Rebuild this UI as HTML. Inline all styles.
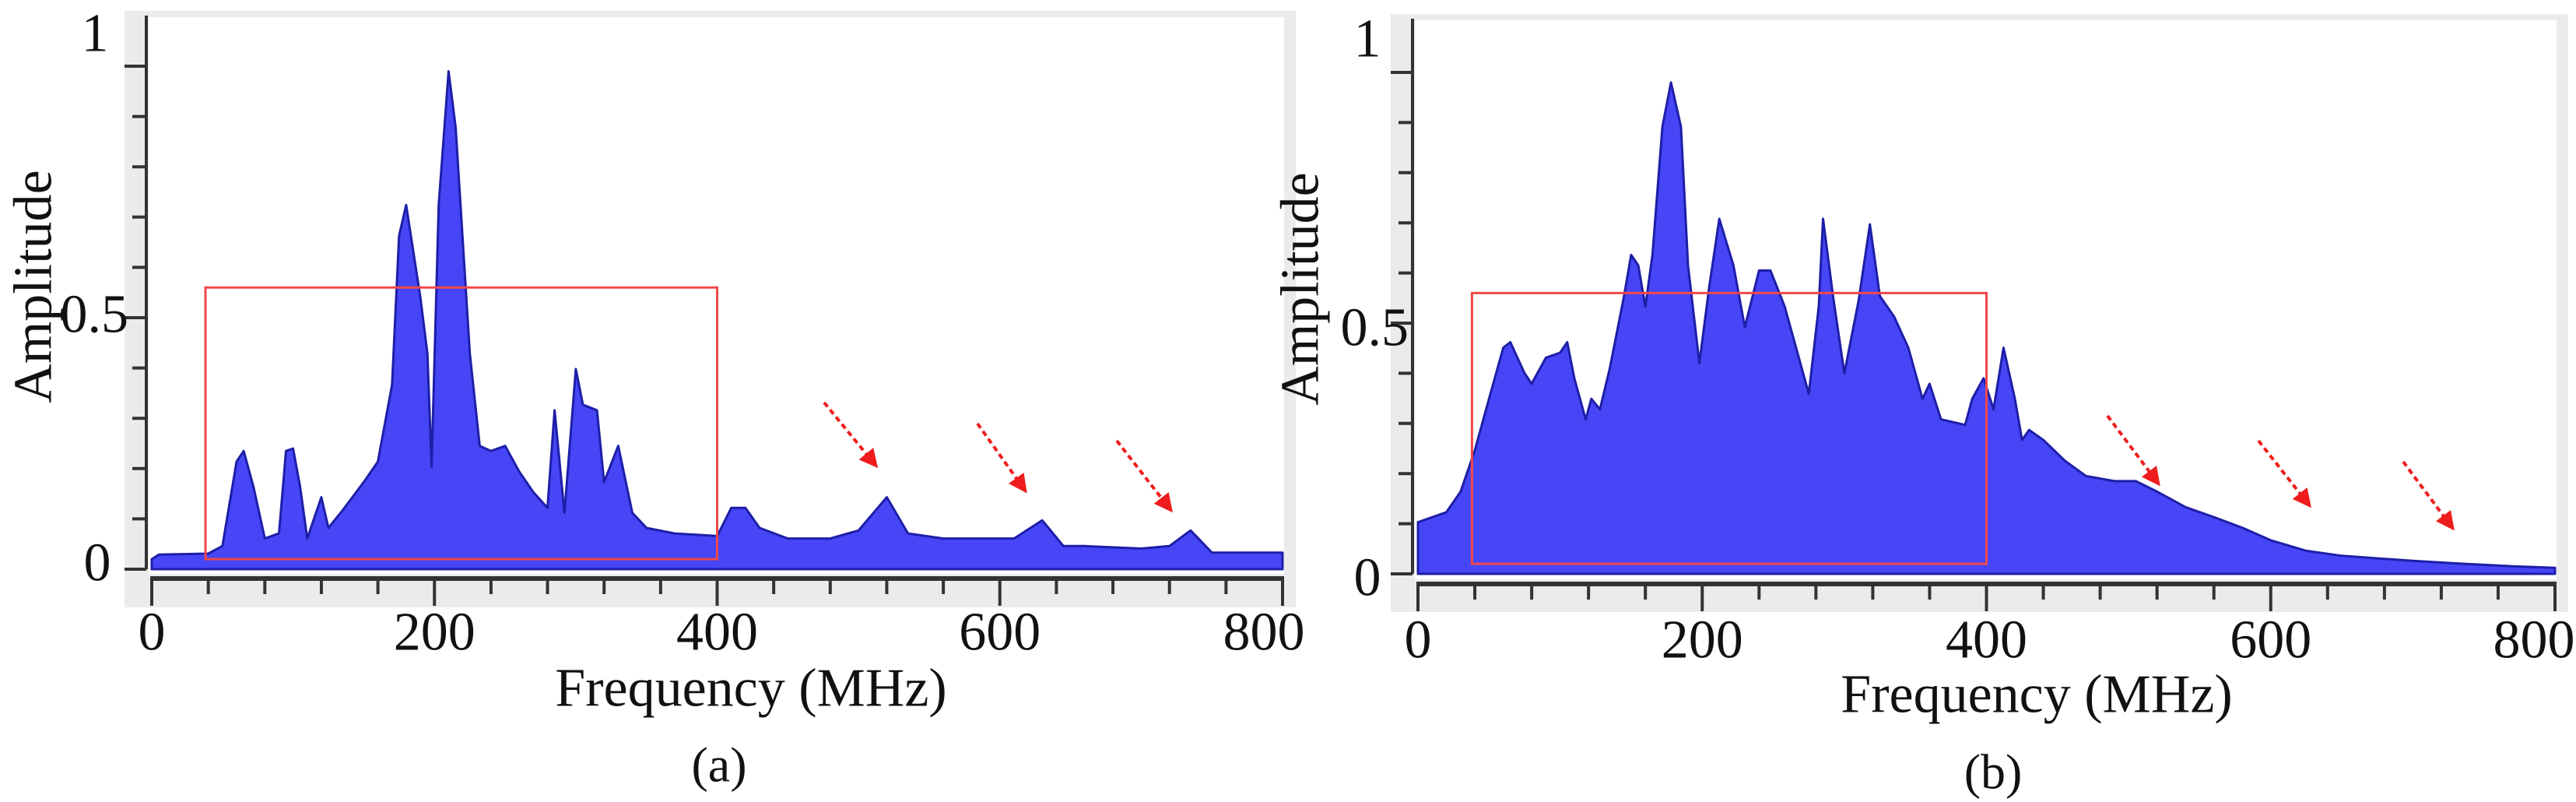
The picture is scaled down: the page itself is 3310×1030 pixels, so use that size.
<!DOCTYPE html>
<html><head><meta charset="utf-8">
<style>
html,body{margin:0;padding:0;background:#fff;}
svg{display:block;}
text{font-family:"Liberation Serif","DejaVu Serif",serif;fill:#111;}
</style></head>
<body>
<svg id="fig" width="3310" height="1030" viewBox="0 0 3310 1030" xmlns="http://www.w3.org/2000/svg">
<defs>
<marker id="ah" markerWidth="6" markerHeight="6" refX="4" refY="3" orient="auto" markerUnits="strokeWidth"><path d="M0,0 L6,3 L0,6 z" fill="#ee1c1c"/></marker>
</defs>
</svg>
<script>
const aFreq=[0,5,40,50,60,65,72,80,90,95,100,105,110,120,125,135,150,160,170,175,180,190,195,198,203,210,215,225,232,240,250,260,270,280,285,292,300,305,315,320,330,340,350,370,400,410,420,430,450,480,500,520,535,560,590,610,630,645,660,700,720,735,750,800];
const aAmp=[0.02,0.029,0.031,0.046,0.214,0.235,0.163,0.061,0.071,0.235,0.24,0.163,0.061,0.143,0.082,0.117,0.173,0.214,0.367,0.663,0.724,0.541,0.429,0.204,0.724,0.99,0.878,0.429,0.245,0.235,0.245,0.194,0.153,0.122,0.316,0.112,0.398,0.327,0.316,0.173,0.245,0.112,0.082,0.071,0.066,0.122,0.122,0.082,0.061,0.061,0.077,0.143,0.071,0.061,0.061,0.061,0.097,0.046,0.046,0.041,0.046,0.077,0.033,0.033];
const bFreq=[0,20,30,40,50,60,65,75,80,90,100,105,110,118,122,128,135,145,150,155,160,165,172,178,185,190,198,205,212,222,230,240,248,258,268,275,282,285,292,300,310,318,325,335,345,355,360,368,385,390,398,405,412,420,425,430,440,455,470,490,505,520,540,560,580,600,625,650,700,730,770,800];
const bAmp=[0.103,0.123,0.164,0.246,0.349,0.451,0.462,0.4,0.379,0.431,0.441,0.462,0.39,0.308,0.349,0.328,0.41,0.554,0.636,0.615,0.533,0.636,0.892,0.98,0.892,0.615,0.42,0.574,0.708,0.615,0.492,0.605,0.605,0.533,0.431,0.359,0.533,0.708,0.554,0.4,0.544,0.697,0.554,0.513,0.451,0.349,0.379,0.308,0.297,0.349,0.39,0.328,0.451,0.349,0.267,0.287,0.267,0.226,0.195,0.185,0.185,0.164,0.133,0.113,0.092,0.067,0.046,0.036,0.026,0.021,0.015,0.012];
const xTicks=[0,200,400,600,800];
const xTickLabels=["0","200","400","600","800"];
const yTicks=[0,0.5,1];
const yTickLabels=["0","0.5","1"];
const boxRange=[38,400,0.02,0.56];

const NS="http://www.w3.org/2000/svg";
const svg=document.getElementById('fig');
function mk(tag,attrs,parent,txt){const e=document.createElementNS(NS,tag);for(const k in attrs)e.setAttribute(k,attrs[k]);if(txt!==undefined)e.textContent=txt;(parent||svg).appendChild(e);return e;}

const panels=[
 {id:'a',freq:aFreq,amp:aAmp,x0:195,x1:1648,y0:731,k:646,fx0:160,fx1:1665,fy0:14,fy1:780,axisY:743,
  lblX:[125,165,122],lblY:[723,404,43],ampX:43,ampY:368,freqX:965,freqY:884,capX:924,capY:982,tickLblY:812,lastLblX:1624,
  arrows:[[1059,517,1123,595],[1256,544,1315,627],[1435,566,1502,652]]},
 {id:'b',freq:bFreq,amp:bAmp,x0:1822,x1:3283,y0:737,k:644,fx0:1787,fx1:3300,fy0:18,fy1:786,axisY:750,
  lblX:[1757,1810,1757],lblY:[742,421,50],ampX:1671,ampY:371,freqX:2617,freqY:892,capX:2561,capY:991,tickLblY:822,lastLblX:3256,
  arrows:[[2708,534,2771,618],[2902,566,2965,646],[3088,593,3149,675]]}
];

panels.forEach(p=>{
 const X=f=>p.x0+(f/800)*(p.x1-p.x0);
 const Y=v=>p.y0-v*p.k;
 const g=mk('g',{});
 
 
 const frame=mk('rect',{x:p.fx0,y:p.fy0,width:p.fx1-p.fx0,height:p.fy1-p.fy0,fill:'#ebebeb'},g);
 
 
 const area=mk('rect',{x:p.x0-4,y:p.fy0+8,width:p.x1-p.x0+6,height:p.axisY-6-(p.fy0+8),fill:'#fff'},g);
 
 
 let d='M'+X(p.freq[0])+','+p.y0;
 p.freq.forEach((f,i)=>{d+=' L'+X(f).toFixed(1)+','+Y(p.amp[i]).toFixed(1);});
 d+=' L'+X(p.freq[p.freq.length-1])+','+p.y0+' Z';
 const area2=mk('path',{d:d,fill:'#4646f6',stroke:'#1e1ea8','stroke-width':3,'stroke-linejoin':'round'},g);
 
 
 const box=mk('rect',{x:X(boxRange[0]),y:Y(boxRange[3]),width:X(boxRange[1])-X(boxRange[0]),height:Y(boxRange[2])-Y(boxRange[3]),fill:'none',stroke:'#f04848','stroke-width':3},g);
 
 
 const ya=mk('line',{x1:p.x0-7,y1:p.fy0+6,x2:p.x0-7,y2:p.y0,stroke:'#333','stroke-width':4},g);
 
 
 for(let i=0;i<=10;i++){
  const v=i/10;const major=(i%5===0);
  const t=mk('line',{x1:p.x0-7-(major?28:18),y1:Y(v),x2:p.x0-7,y2:Y(v),stroke:'#333','stroke-width':4},g);
  
  
 }
 yTickLabels.forEach((s,i)=>{
  const t=mk('text',{x:p.lblX[i],y:p.lblY[i],'font-size':70,'text-anchor':i===1?'end':'middle','dominant-baseline':'central'},g,s);
  
  
 });
 const xa=mk('line',{x1:X(0)-2,y1:p.axisY,x2:X(800)+2,y2:p.axisY,stroke:'#333','stroke-width':6},g);
 
 
 for(let i=0;i<=20;i++){
  const f=i*40;const major=(i%5===0);
  const t=mk('line',{x1:X(f),y1:p.axisY,x2:X(f),y2:p.axisY+(major?35:20),stroke:'#333','stroke-width':4},g);
  
  
 }
 xTicks.forEach((f,i)=>{
  const cx=(i===xTicks.length-1)?p.lastLblX:X(f);
  const t=mk('text',{x:cx,y:p.tickLblY,'font-size':70,'text-anchor':'middle','dominant-baseline':'central'},g,xTickLabels[i]);
  
  
 });
 const yt=mk('text',{x:p.ampX,y:p.ampY,'font-size':70,'text-anchor':'middle','dominant-baseline':'central',transform:'rotate(-90 '+p.ampX+' '+p.ampY+')'},g,'Amplitude');
 
 
 const xt=mk('text',{x:p.freqX,y:p.freqY,'font-size':70,'text-anchor':'middle','dominant-baseline':'central'},g,'Frequency (MHz)');
 
 
 const cap=mk('text',{x:p.capX,y:p.capY,'font-size':64,'text-anchor':'middle','dominant-baseline':'central'},g,'('+p.id+')');
 
 
 p.arrows.forEach(a=>{
  const ar=mk('line',{x1:a[0],y1:a[1],x2:a[2],y2:a[3],stroke:'#ee1c1c','stroke-width':4,'stroke-dasharray':'7 5','marker-end':'url(#ah)'},g);
  
  
 });
});
</script>
</body></html>
